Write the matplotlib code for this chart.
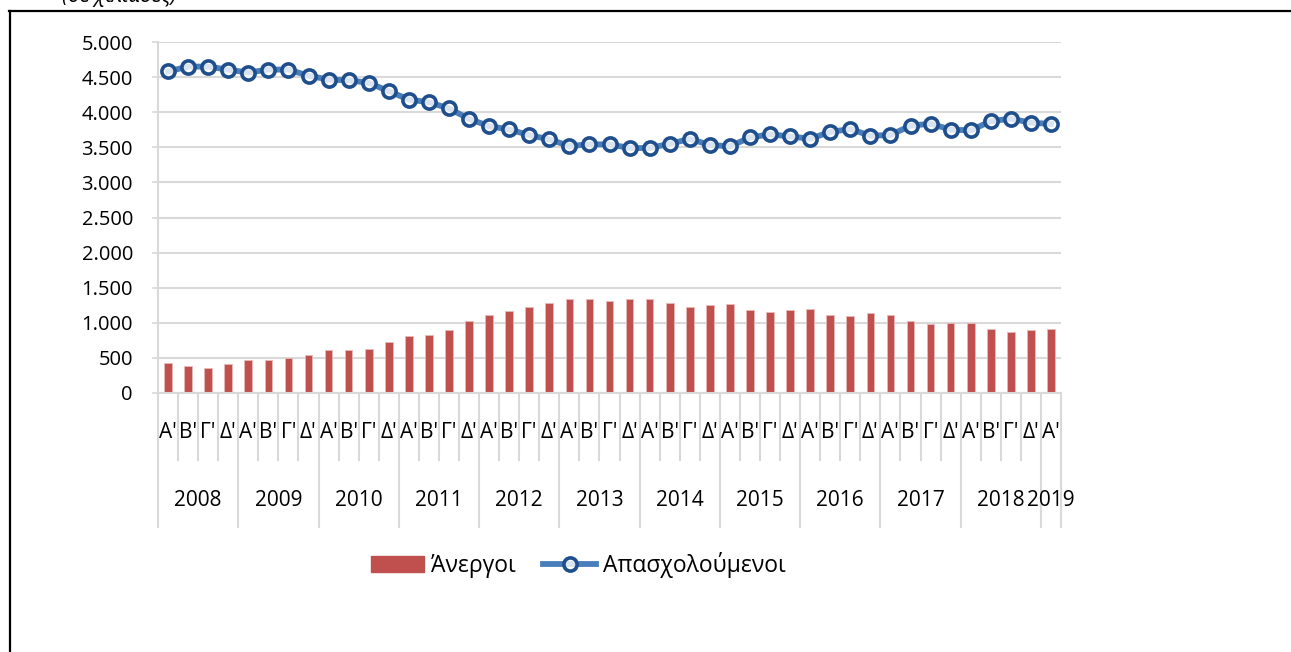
import matplotlib
matplotlib.use("Agg")
import matplotlib.pyplot as plt
from matplotlib.lines import Line2D
from matplotlib.patches import Patch

plt.rcParams['font.family'] = ['Open Sans', 'DejaVu Sans']

years = ['2008', '2009', '2010', '2011', '2012', '2013', '2014', '2015',
         '2016', '2017', '2018', '2019']
quarter_names = ["Α'", "Β'", "Γ'", "Δ'"]
quarters_per_year = [4, 4, 4, 4, 4, 4, 4, 4, 4, 4, 4, 1]

unemployed = [432, 385, 362, 409, 474, 474, 498, 541, 611, 611, 630, 720,
              805, 828, 894, 1025, 1115, 1162, 1223, 1289, 1332, 1332, 1313,
              1332, 1332, 1289, 1223, 1247, 1266, 1176, 1158, 1176, 1200,
              1115, 1091, 1134, 1115, 1025, 983, 1002, 1002, 918, 870, 894, 918]
employed = [4580, 4650, 4650, 4605, 4565, 4607, 4607, 4520, 4465, 4455, 4418,
            4300, 4180, 4142, 4053, 3905, 3801, 3754, 3674, 3613, 3518, 3542,
            3542, 3490, 3490, 3550, 3619, 3534, 3514, 3640, 3685, 3655, 3622,
            3719, 3760, 3665, 3675, 3808, 3836, 3752, 3741, 3872, 3908, 3850, 3834]
yticks = [0, 500, 1000, 1500, 2000, 2500, 3000, 3500, 4000, 4500, 5000]
ytick_labels = ['0', '500', '1.000', '1.500', '2.000', '2.500', '3.000',
                '3.500', '4.000', '4.500', '5.000']

W, H = 1291, 652
fig = plt.figure(figsize=(W / 100, H / 100), dpi=100)
ax = fig.add_axes([158 / W, 1 - 393 / H, (1061 - 158) / W, (393 - 42) / H])

n = len(unemployed)
x = list(range(n))
grid_c = '#D9D9D9'

ax.bar(x, unemployed, width=0.38, color='#C0504D', edgecolor='#E6B9B8',
       linewidth=0.6, zorder=2)
ax.plot(x, employed, color='#4A7EBB', linewidth=4.2, marker='o',
        markersize=9.5, markeredgewidth=2.6, markeredgecolor='#1F4E8C',
        markerfacecolor=(1, 1, 1, 0.8), zorder=3)

ax.set_xlim(-0.5, n - 0.5)
ax.set_ylim(0, 5000)
ax.set_yticks(yticks)
ax.set_yticklabels(ytick_labels, fontsize=14.5, color='#000000')
ax.yaxis.grid(True, color=grid_c, linewidth=1.5, zorder=0)
ax.set_axisbelow(True)
ax.tick_params(axis='y', length=4, width=1.2, color=grid_c, pad=14)
ax.set_xticks([])
for s in ['top', 'right']:
    ax.spines[s].set_visible(False)
ax.spines['left'].set_color(grid_c)
ax.spines['left'].set_linewidth(1.5)
ax.spines['bottom'].set_color(grid_c)
ax.spines['bottom'].set_linewidth(1.5)

trans = ax.get_xaxis_transform()
short_y = -67 / 351
long_y = -134 / 351
q_y = -39 / 351
yr_y = -107 / 351

# year boundaries
boundaries = [0]
for q in quarters_per_year:
    boundaries.append(boundaries[-1] + q)
bset = set(boundaries)
for i in range(n + 1):
    ybot = long_y if i in bset else short_y
    ax.plot([i - 0.5, i - 0.5], [0, ybot], transform=trans, color=grid_c,
            linewidth=1.5, clip_on=False, zorder=1)

idx = 0
for yi, q in enumerate(quarters_per_year):
    for k in range(q):
        ax.text(idx + k, q_y, quarter_names[k], transform=trans, ha='center',
                va='center', fontsize=15)
    ax.text(boundaries[yi] + (q - 1) / 2, yr_y, years[yi], transform=trans,
            ha='center', va='center', fontsize=15)
    idx += q

handles = [Patch(facecolor='#C0504D', edgecolor='#C0504D'),
           Line2D([0], [0], color='#4A7EBB', linewidth=4.2, marker='o',
                  markersize=9.5, markeredgewidth=2.6, markeredgecolor='#1F4E8C',
                  markerfacecolor=(1, 1, 1, 0.8))]
fig.legend(handles, ['Άνεργοι', 'Απασχολούμενοι'], loc='center',
           bbox_to_anchor=(578.5 / W, 1 - 565 / H), ncol=2, frameon=False,
           fontsize=16.5, handlelength=2.3, handleheight=0.65,
           handletextpad=0.3, columnspacing=1.2)

fig.text(62 / W, 1 - 2 / H, '(σε χιλιάδες)', fontsize=15, style='italic',
         ha='left', va='baseline')

fig.add_artist(Line2D([9.5 / W, 9.5 / W], [0, 1 - 11 / H], color='black',
                      linewidth=1.6, transform=fig.transFigure))
fig.add_artist(Line2D([9 / W, 1], [1 - 11 / H, 1 - 11 / H], color='black',
                      linewidth=1.6, transform=fig.transFigure))

fig.savefig('out.png', dpi=100, facecolor='white')
